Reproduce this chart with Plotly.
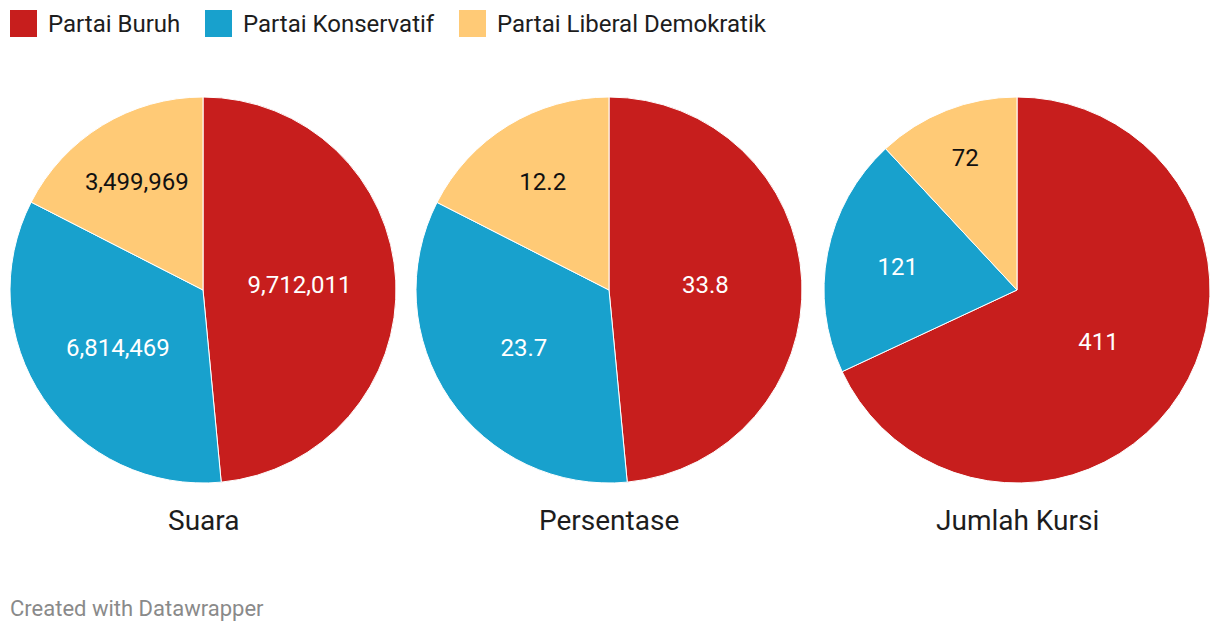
import plotly.graph_objects as go

parties = ["Partai Buruh", "Partai Konservatif", "Partai Liberal Demokratik"]
colors = ["#c71e1d", "#18a1cd", "#ffca76"]
text_colors = ["#ffffff", "#ffffff", "#111111"]

suara = [9712011, 6814469, 3499969]
persentase = [33.8, 23.7, 12.2]
kursi = [411, 121, 72]

titles = ["Suara", "Persentase", "Jumlah Kursi"]
series = [suara, persentase, kursi]
templates = ["%{value:,.0f}", "%{value:.1f}", "%{value:.0f}"]

W, H = 1220, 632
centers = [203, 609, 1017]
R = 193
cy = 290

fig = go.Figure()
for i, (vals, tmpl) in enumerate(zip(series, templates)):
    cx = centers[i]
    fig.add_trace(go.Pie(
        labels=parties,
        values=vals,
        sort=False,
        direction="clockwise",
        rotation=0,
        marker=dict(colors=colors, line=dict(color="#ffffff", width=1)),
        textinfo="text",
        texttemplate=tmpl,
        textposition="inside",
        insidetextorientation="horizontal",
        textfont=dict(family="Roboto", size=24, color=text_colors),
        hoverinfo="label+value",
        domain=dict(x=[(cx - R) / W, (cx + R) / W], y=[1 - (cy + R) / H, 1 - (cy - R) / H]),
        showlegend=False,
    ))

annotations = []
for i, t in enumerate(titles):
    annotations.append(dict(
        x=centers[i] / W, y=1 - 520 / H, xref="paper", yref="paper",
        text=t, showarrow=False, xanchor="center", yanchor="middle",
        font=dict(family="Roboto", size=28, color="#1d1d1d"),
    ))

shapes = []
legend_x = [10, 205, 459]
for i, p in enumerate(parties):
    x0 = legend_x[i]
    shapes.append(dict(
        type="rect", xref="paper", yref="paper",
        x0=x0 / W, x1=(x0 + 27) / W, y0=1 - 37 / H, y1=1 - 10 / H,
        fillcolor=colors[i], line=dict(width=0),
    ))
    annotations.append(dict(
        x=(x0 + 36) / W, y=1 - 24 / H, xref="paper", yref="paper",
        text=p, showarrow=False, xanchor="left", yanchor="middle",
        font=dict(family="Roboto", size=24, color="#1d1d1d"),
    ))

annotations.append(dict(
    x=8 / W, y=1 - 608 / H, xref="paper", yref="paper",
    text="Created with Datawrapper", showarrow=False, xanchor="left", yanchor="middle",
    font=dict(family="Roboto", size=22, color="#8a8a8a"),
))

fig.update_layout(
    width=W, height=H,
    margin=dict(l=0, r=0, t=0, b=0),
    paper_bgcolor="#ffffff",
    plot_bgcolor="#ffffff",
    annotations=annotations,
    shapes=shapes,
    uniformtext=dict(minsize=10, mode="show"),
)

fig.write_html("out.html")
